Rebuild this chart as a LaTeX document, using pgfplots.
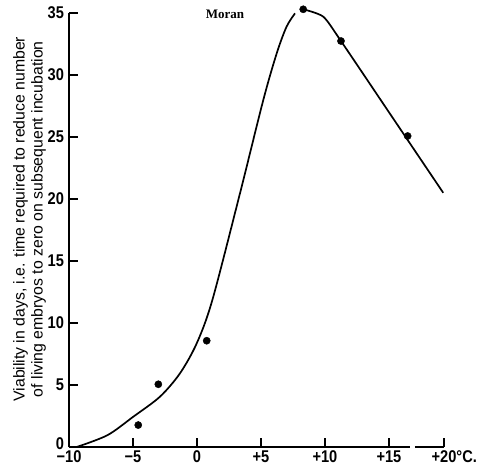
\documentclass[border=0pt]{standalone}
\usepackage{pgfplots}
\pgfplotsset{compat=1.18}
\usepackage{graphicx}
\usepackage{fontspec}
\setmainfont{Liberation Sans}
\newfontfamily\serifname{Liberation Serif}

% observed points
\pgfplotstableread{
x y
-4.59 1.77
-3.02 5.06
0.76 8.57
8.30 35.3
11.25 32.74
16.46 25.08
}\obs

% rising branch of the drawn curve
\pgfplotstableread{
x y
-9.4 0
-7.0 0.95
-4.98 2.44
-2.89 4.06
-1.33 5.94
-0.02 8.36
1.2 11.85
3.36 20.46
5.18 27.98
6.23 31.75
7.0 33.9
7.66 34.97
}\rise

% falling branch
\pgfplotstableread{
x y
8.30 35.3
9.87 34.7
11.25 32.74
15.2 26.69
19.24 20.5
}\fall

\newcommand\nar[1]{\scalebox{0.86}[1]{#1}}

\begin{document}
\begin{tikzpicture}
\begin{axis}[
    scale only axis,
    width=375pt, height=434pt,
    xmin=-10, xmax=19.3, ymin=0, ymax=35,
    axis y line*=left, axis x line*=bottom,
    x axis line style={draw=none},
    y axis line style={line width=1.2pt, -},
    xtick={-10,-5,0,5,10,15,19.3},
    xticklabels={\nar{−10},\nar{−5},\nar{0},\nar{+5},\nar{+10},\nar{+15},{\nar{+20}\rlap{\nar{°C.}}}},
    ytick={0,5,...,35},
    yticklabels={\raisebox{6pt}{\nar{0}},\nar{5},\nar{10},\nar{15},\nar{20},\nar{25},\nar{30},\nar{35}},
    tick align=inside,
    major tick length=9pt,
    tick style={line width=1.2pt, black},
    tick label style={font=\fontsize{17}{17}\selectfont\bfseries},
    /pgf/number format/assume math mode=true,
    yticklabel style={xshift=-1.5pt},
    ylabel={Viability in days, i.e. time required to reduce number\\of living embryos to zero on subsequent incubation},
    ylabel style={align=center, font=\fontsize{15.8}{18}\selectfont,
                  at={(ticklabel cs:0.525)}},
    ylabel shift=-5pt,
    clip=false,
]
\coordinate (ll) at (rel axis cs:0,0);
\coordinate (ur) at (rel axis cs:1,1);
\draw[line width=1.2pt] (axis cs:-10,0) -- (axis cs:16.64,0);
\draw[line width=1.2pt] (axis cs:17.03,0) -- (axis cs:19.3,0);
\addplot[line width=1.7pt, smooth, tension=0.5] table {\rise};
\addplot[line width=1.7pt, smooth, tension=0.4] table {\fall};
\addplot[only marks, mark=*, mark size=3.6pt] table {\obs};
\node[font=\serifname\bfseries\fontsize{13}{13}\selectfont] at (axis cs:2.19,34.9) {Moran};
\end{axis}
\pgfresetboundingbox
\path[use as bounding box] ([xshift=-69pt,yshift=-19pt]ll) rectangle ([xshift=51pt,yshift=13pt]ur);
\end{tikzpicture}
\end{document}
